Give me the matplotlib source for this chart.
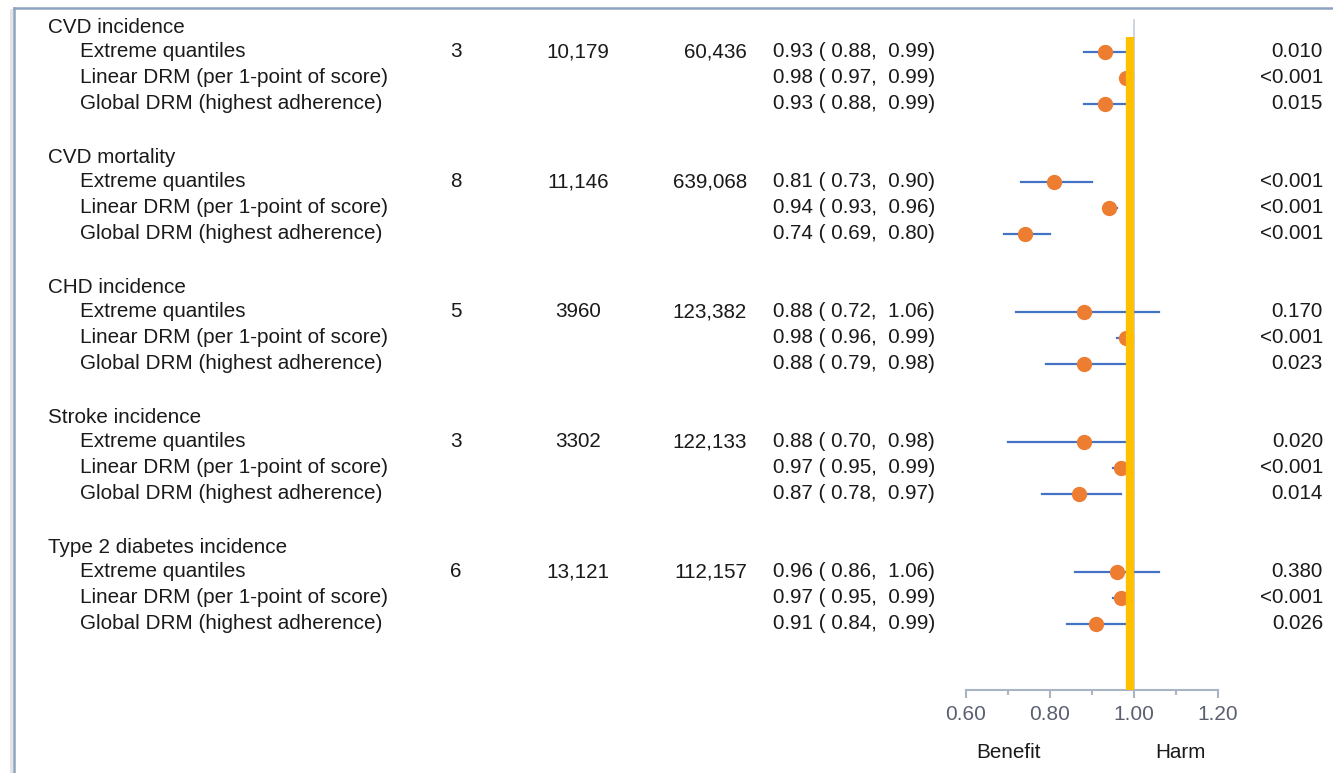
import matplotlib.pyplot as plt
from matplotlib.transforms import blended_transform_factory
from matplotlib.lines import Line2D

plt.rcParams['font.family'] = ['Liberation Sans', 'DejaVu Sans']

# data
outcomes = ['CVD incidence', 'CVD mortality', 'CHD incidence',
            'Stroke incidence', 'Type 2 diabetes incidence']
models = ['Extreme quantiles', 'Linear DRM (per 1-point of score)',
          'Global DRM (highest adherence)']
n_studies = ['3', '8', '5', '3', '6']
n_cases = ['10,179', '11,146', '3960', '3302', '13,121']
n_participants = ['60,436', '639,068', '123,382', '122,133', '112,157']

rr = [[0.93, 0.98, 0.93],
      [0.81, 0.94, 0.74],
      [0.88, 0.98, 0.88],
      [0.88, 0.97, 0.87],
      [0.96, 0.97, 0.91]]
lo = [[0.88, 0.97, 0.88],
      [0.73, 0.93, 0.69],
      [0.72, 0.96, 0.79],
      [0.70, 0.95, 0.78],
      [0.86, 0.95, 0.84]]
hi = [[0.99, 0.99, 0.99],
      [0.90, 0.96, 0.80],
      [1.06, 0.99, 0.98],
      [0.98, 0.99, 0.97],
      [1.06, 0.99, 0.99]]
pvals = [['0.010', '<0.001', '0.015'],
         ['<0.001', '<0.001', '<0.001'],
         ['0.170', '<0.001', '0.023'],
         ['0.020', '<0.001', '0.014'],
         ['0.380', '<0.001', '0.026']]

W, H = 1333, 773
fig = plt.figure(figsize=(W / 100, H / 100), dpi=100)

# forest panel: x 966..1218 px, y 13..690 px
ax = fig.add_axes([966 / W, 1 - 690 / H, 252 / W, 677 / H])
ax.set_xlim(0.6, 1.2)
ax.set_ylim(25.54, -0.5)

blue = '#4472C4'
orange = '#ED7D31'
gold = '#FFC000'
axis_col = '#A9B4C4'
txt = '#1a1a1a'
fs = 14.9

tr = blended_transform_factory(fig.transFigure, ax.transData)


def px(x):
    return x / W


ax.plot([1.0, 1.0], [-0.23, 25.54], color='#C4CCD8', lw=1.2, zorder=1)

for g, name in enumerate(outcomes):
    r0 = g * 5
    ax.text(px(48), r0 + 0.05, name, transform=tr, fontsize=fs, color=txt,
            va='center', ha='left', clip_on=False)
    for k, m in enumerate(models):
        r = r0 + 1 + k
        ax.text(px(80), r, m, transform=tr, fontsize=fs, color=txt,
                va='center', ha='left', clip_on=False)
        ci = '%.2f ( %.2f,  %.2f)' % (rr[g][k], lo[g][k], hi[g][k])
        ax.text(px(773), r, ci, transform=tr, fontsize=fs, color=txt,
                va='center', ha='left', clip_on=False)
        ax.text(px(1323), r, pvals[g][k], transform=tr, fontsize=fs,
                color=txt, va='center', ha='right', clip_on=False)
        ax.plot([lo[g][k], hi[g][k]], [r, r], color=blue, lw=1.6, zorder=2)
        ax.plot(rr[g][k], r, 'o', color=orange, ms=10, zorder=3)
    ax.text(px(450), r0 + 1, n_studies[g], transform=tr, fontsize=fs,
            color=txt, va='center', ha='left', clip_on=False)
    ax.text(px(578), r0 + 1, n_cases[g], transform=tr, fontsize=fs,
            color=txt, va='center', ha='center', clip_on=False)
    ax.text(px(747), r0 + 1, n_participants[g], transform=tr, fontsize=fs,
            color=txt, va='center', ha='right', clip_on=False)

# reference bar drawn over the intervals
ax.plot([0.99, 0.99], [0.42, 25.54], color=gold, lw=6, zorder=4,
        solid_capstyle='butt')

for s in ['top', 'right', 'left']:
    ax.spines[s].set_visible(False)
ax.spines['bottom'].set_color(axis_col)
ax.spines['bottom'].set_linewidth(1.5)
ax.set_yticks([])
ax.set_xticks([0.6, 0.8, 1.0, 1.2])
ax.set_xticklabels(['0.60', '0.80', '1.00', '1.20'])
ax.set_xticks([0.7, 0.9, 1.1], minor=True)
ax.tick_params(axis='x', which='major', length=6, width=1.5,
               color=axis_col, labelsize=15, labelcolor='#5a6070', pad=5)
ax.tick_params(axis='x', which='minor', length=3.5, width=1.5, color=axis_col)
ax.patch.set_alpha(0)

fig.text(px(1008), 1 - 753 / H, 'Benefit', fontsize=fs, color=txt,
         ha='center', va='center')
fig.text(px(1180), 1 - 752 / H, 'Harm', fontsize=fs, color=txt,
         ha='center', va='center')

# frame around the panel
fig.add_artist(Line2D([px(14), 1], [1 - 8 / H, 1 - 8 / H],
                      transform=fig.transFigure, color='#8EA3C0', lw=1.8))
fig.add_artist(Line2D([px(14), px(14)], [0, 1 - 8 / H],
                      transform=fig.transFigure, color='#8EA3C0', lw=1.8))
fig.add_artist(Line2D([px(11), px(11)], [0, 1 - 10 / H],
                      transform=fig.transFigure, color='#E2E2E2', lw=2))

fig.savefig('out.png', dpi=100)
